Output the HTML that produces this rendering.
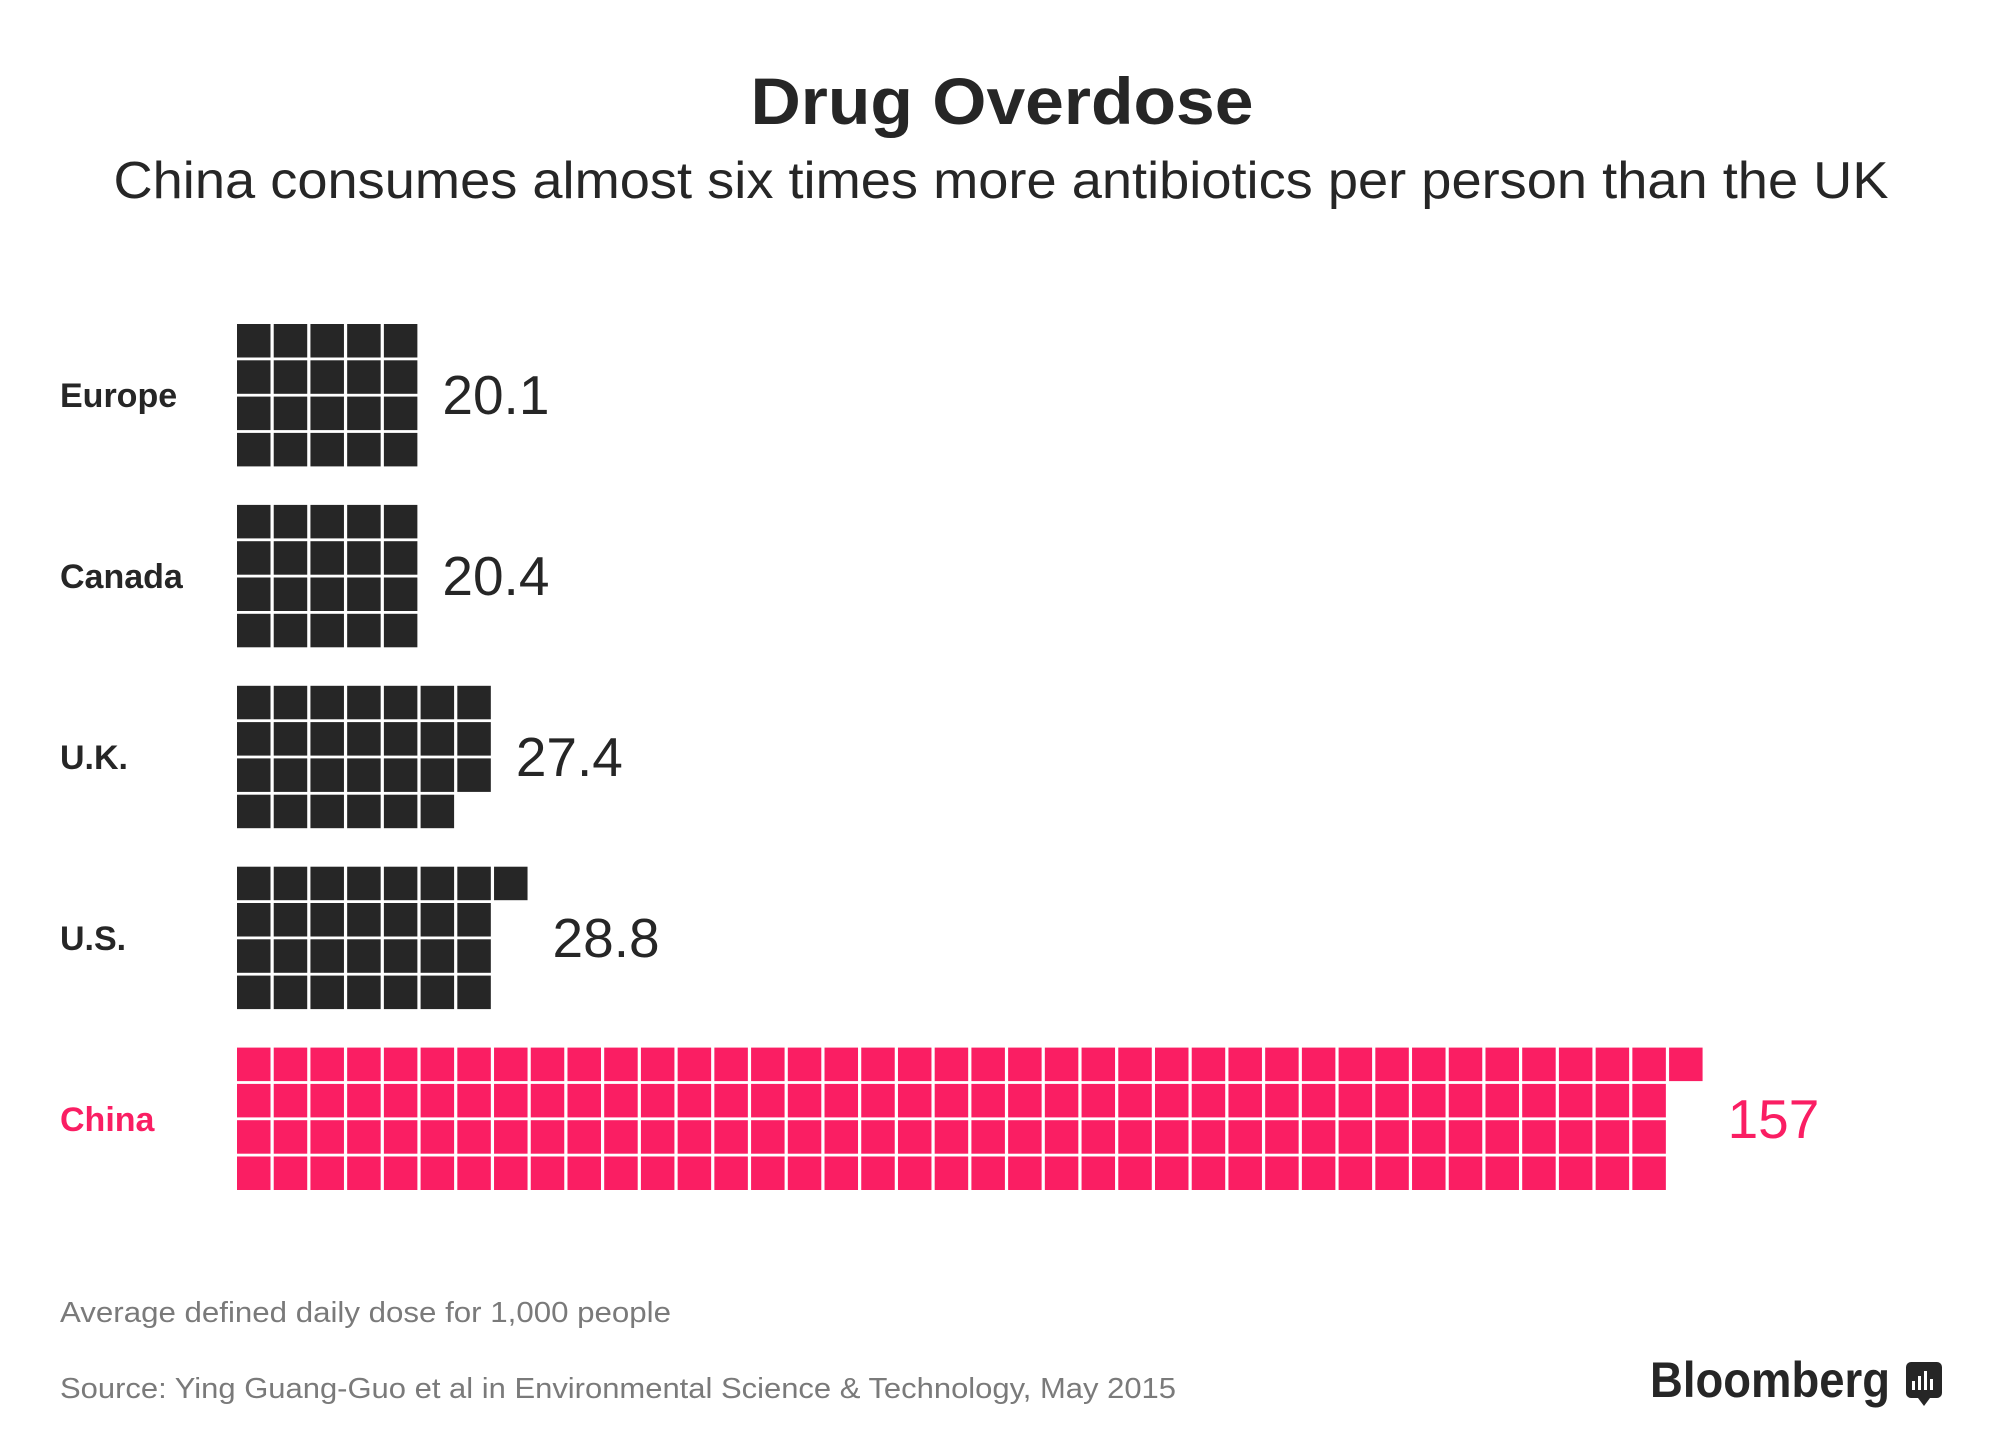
<!DOCTYPE html>
<html><head><meta charset="utf-8"><style>
html,body{margin:0;padding:0;background:#fff;}
svg{display:block;font-family:"Liberation Sans",sans-serif;}
</style></head><body>
<svg id="chart" width="2000" height="1450" viewBox="0 0 2000 1450">
<text x="1002" y="124" text-anchor="middle" font-size="66" font-weight="bold" fill="#262626" textLength="503" lengthAdjust="spacingAndGlyphs">Drug Overdose</text>
<text x="1001" y="198" text-anchor="middle" font-size="52" fill="#262626" textLength="1775" lengthAdjust="spacingAndGlyphs">China consumes almost six times more antibiotics per person than the UK</text>
<g id="rows"></g>
<text x="60" y="1322" font-size="29" fill="#7a7a7a" textLength="611" lengthAdjust="spacingAndGlyphs">Average defined daily dose for 1,000 people</text>
<text x="60" y="1398" font-size="29" fill="#7a7a7a" textLength="1116" lengthAdjust="spacingAndGlyphs">Source: Ying Guang-Guo et al in Environmental Science &amp; Technology, May 2015</text>
<text x="1650" y="1397" font-size="50" font-weight="bold" fill="#262626" textLength="240" lengthAdjust="spacingAndGlyphs">Bloomberg</text>
<g transform="translate(-8,0)">
<rect x="1914" y="1362" width="36" height="36" rx="5" fill="#262626"/>
<polygon points="1926,1398 1938,1398 1932,1406" fill="#262626"/>
<rect x="1920" y="1381" width="3" height="9" fill="#fff"/>
<rect x="1926" y="1376" width="3" height="14" fill="#fff"/>
<rect x="1932" y="1371" width="3" height="19" fill="#fff"/>
<rect x="1938" y="1379" width="3" height="11" fill="#fff"/>
</g>
</svg>
<script>
const categories = ["Europe", "Canada", "U.K.", "U.S.", "China"];
const values = [20.1, 20.4, 27.4, 28.8, 157];
const valueLabels = ["20.1", "20.4", "27.4", "28.8", "157"];
const highlight = [false, false, false, false, true];

const NS = "http://www.w3.org/2000/svg";
const g = document.getElementById("rows");
const x0 = 237, pitch = 36.72, cell = 33.5, rowTop0 = 324, rowPitch = 180.9, vPitch = 36.3, perRow = 4;
function colX(c){ return x0 + c * pitch; }
function rowY(i, r){ return rowTop0 + i * rowPitch + r * vPitch; }

categories.forEach((cat, i) => {
  const color = highlight[i] ? "#fa1e63" : "#262626";
  const n = Math.round(values[i]);
  const cy = rowY(i, 0) + (perRow * vPitch - (vPitch - cell)) / 2;
  const label = document.createElementNS(NS, "text");
  
  
  label.setAttribute("x", 60); label.setAttribute("y", cy + 12);
  label.setAttribute("font-size", "34"); label.setAttribute("font-weight", "bold");
  label.setAttribute("fill", color);
  label.textContent = cat;
  g.appendChild(label);
  let maxCol = 0;
  for (let k = 0; k < n; k++) {
    const c = Math.floor(k / perRow), r = k % perRow;
    maxCol = Math.max(maxCol, c);
    const sq = document.createElementNS(NS, "rect");
    
    
    sq.setAttribute("x", colX(c)); sq.setAttribute("y", rowY(i, r));
    sq.setAttribute("width", cell); sq.setAttribute("height", cell);
    sq.setAttribute("fill", color);
    g.appendChild(sq);
  }
  const vt = document.createElementNS(NS, "text");
  
  
  vt.setAttribute("x", colX(maxCol) + cell + 25);
  vt.setAttribute("y", cy + 19);
  vt.setAttribute("font-size", "55");
  vt.setAttribute("fill", color);
  vt.textContent = valueLabels[i];
  g.appendChild(vt);
});
</script>
</body></html>
